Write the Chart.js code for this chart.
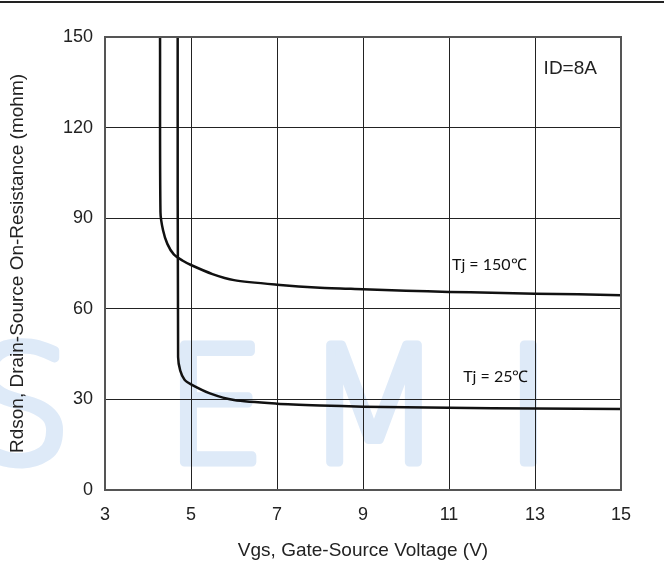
<!doctype html>
<html>
<head>
  <meta charset="utf-8">
  <script src="https://cdn.jsdelivr.net/npm/chart.js@4/dist/chart.umd.min.js"></script>
  <style>
    html, body { margin: 0; padding: 0; background: #fff; }
    #wrap { width: 664px; height: 566px; }
  </style>
</head>
<body>
  <div id="wrap"><canvas id="c"></canvas></div>
  <script>
    // Rdson vs Vgs
    const vgs150 = [4.28, 4.29, 4.35, 4.45, 4.6, 4.8, 5.0, 5.5, 6.0, 7, 8, 9, 10, 11, 12, 13, 14, 15];
    const rds150 = [150, 92, 86, 81.5, 78, 76, 74.5, 71.5, 69.5, 68, 67, 66.5, 66, 65.6, 65.3, 65, 64.8, 64.5];
    const vgs25 = [4.69, 4.70, 4.75, 4.85, 5.0, 5.44, 6.0, 7, 8, 9, 11, 13, 15];
    const rds25 = [150, 44, 39.5, 36.5, 35, 32, 29.8, 28.6, 28, 27.6, 27.2, 27, 26.8];
    const xTicks = [3, 5, 7, 9, 11, 13, 15];
    const yTicks = [0, 30, 60, 90, 120, 150];

    const pts = (xs, ys) => xs.map((x, i) => ({x: x, y: ys[i]}));

    const extras = {
      id: 'extras',
      beforeDraw(chart) {
        const ctx = chart.ctx;
        ctx.save();
        // faint watermark
        ctx.strokeStyle = 'rgb(222,234,248)';
        ctx.fillStyle = 'rgb(222,234,248)';
        ctx.lineWidth = 9;
        ctx.lineJoin = 'round';
        ctx.font = '200 160px "DejaVu Sans"';
        ctx.textBaseline = 'alphabetic';
        [['S', -30], ['E', 165], ['M', 305], ['I', 505]].forEach(([t, x]) => {
          ctx.fillText(t, x, 462);
          ctx.strokeText(t, x, 462);
        });
        // top rule
        ctx.fillStyle = '#222';
        ctx.fillRect(0, 1, 664, 2);
        ctx.restore();
      },
      afterDatasetsDraw(chart) {
        const ctx = chart.ctx;
        const xs = chart.scales.x, ys = chart.scales.y;
        const a = chart.chartArea;
        ctx.save();
        ctx.strokeStyle = '#555';
        ctx.lineWidth = 2;
        ctx.strokeRect(a.left, a.top, a.right - a.left, a.bottom - a.top);
        ctx.fillStyle = '#111';
        ctx.textBaseline = 'middle';
        ctx.font = '16px Lato';
        ctx.fillText('Tj = 150\u2103', xs.getPixelForValue(11.07), ys.getPixelForValue(74.5));
        ctx.fillText('Tj = 25\u2103', xs.getPixelForValue(11.33), ys.getPixelForValue(37.4));
        ctx.font = '19px "Liberation Sans"';
        ctx.fillStyle = '#222';
        ctx.fillText('ID=8A', xs.getPixelForValue(13.2), ys.getPixelForValue(139.5));
        ctx.restore();
      }
    };

    const tickFont = {family: '"Liberation Sans", Arial', size: 18};

    new Chart(document.getElementById('c'), {
      type: 'scatter',
      data: {
        datasets: [
          {label: 'Tj=150', data: pts(vgs150, rds150)},
          {label: 'Tj=25', data: pts(vgs25, rds25)}
        ].map(d => Object.assign(d, {
          showLine: true, borderColor: '#111', borderWidth: 2.5,
          pointRadius: 0, tension: 0.25, fill: false
        }))
      },
      options: {
        responsive: true,
        maintainAspectRatio: false,
        animation: false,
        layout: {padding: {top: 37, right: 43, left: 0, bottom: 0}},
        plugins: {legend: {display: false}, tooltip: {enabled: false}},
        scales: {
          x: {
            type: 'linear', min: 3, max: 15,
            afterBuildTicks: s => { s.ticks = xTicks.map(v => ({value: v})); },
            afterFit: s => { s.height = 76; },
            grid: {color: '#222', lineWidth: 1, drawTicks: false},
            border: {display: false},
            ticks: {font: tickFont, color: '#222', padding: 14, maxRotation: 0},
            title: {display: true, text: 'Vgs, Gate-Source Voltage (V)', font: {family: '"Liberation Sans", Arial', size: 19}, color: '#222', padding: {top: 0, bottom: 4}}
          },
          y: {
            min: 0, max: 150,
            afterBuildTicks: s => { s.ticks = yTicks.map(v => ({value: v})); },
            afterFit: s => { s.width = 105; },
            grid: {color: '#222', lineWidth: 1, drawTicks: false},
            border: {display: false},
            ticks: {font: tickFont, color: '#222', padding: 12},
            title: {display: true, text: 'Rdson, Drain-Source On-Resistance (mohm)', font: {family: '"Liberation Sans", Arial', size: 19}, color: '#222', padding: {top: 6, bottom: 0}}
          }
        }
      },
      plugins: [extras]
    });
  </script>
</body>
</html>
